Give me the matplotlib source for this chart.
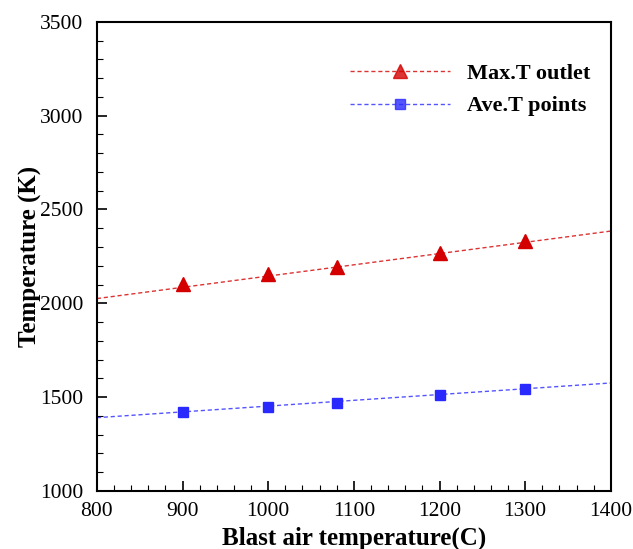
import numpy as np
import matplotlib.pyplot as plt
from matplotlib.ticker import MultipleLocator

# blast air temperature (C)
blast_temp = [900, 1000, 1080, 1200, 1300]
max_t_outlet = [2105, 2154, 2193, 2270, 2331]
ave_t_points = [1422, 1448, 1470, 1511, 1542]

# trend lines (ends of the plot range)
trend_x = [800, 1400]
trend_max = [2025, 2385]
trend_ave = [1390, 1575]

red = '#d40000'
blue = '#2a2aff'

fig = plt.figure(figsize=(6.33, 5.49), dpi=100)
ax = fig.add_axes([0.153, 0.106, 0.812, 0.854])

ax.plot(trend_x, trend_max, color=red, lw=1.0, ls=(0, (3, 2)), alpha=0.8)
ax.plot(trend_x, trend_ave, color=blue, lw=1.0, ls=(0, (3, 2)), alpha=0.8)
ax.plot(blast_temp, max_t_outlet, ls='none', marker='^', ms=9.5, color=red)
ax.plot(blast_temp, ave_t_points, ls='none', marker='s', ms=7.5, color=blue)

# legend handles: dashed line with marker in the middle
h1, = ax.plot([], [], color=red, lw=1.0, ls=(0, (3, 2)), alpha=0.8,
              marker='^', ms=9.5)
h2, = ax.plot([], [], color=blue, lw=1.0, ls=(0, (3, 2)), alpha=0.8,
              marker='s', ms=7.5)
leg = ax.legend([h1, h2], ['Max.T outlet', 'Ave.T points'], frameon=False,
                loc='upper right', bbox_to_anchor=(1.0, 0.955), handlelength=4.5,
                handletextpad=0.8, labelspacing=0.55, numpoints=1,
                prop={'family': 'Liberation Serif', 'weight': 'bold', 'size': 16})

ax.set_xlim(800, 1400)
ax.set_ylim(1000, 3500)
ax.xaxis.set_major_locator(MultipleLocator(100))
ax.xaxis.set_minor_locator(MultipleLocator(20))
ax.yaxis.set_major_locator(MultipleLocator(500))
ax.yaxis.set_minor_locator(MultipleLocator(100))
ax.tick_params(which='both', direction='in', top=False, right=False)
ax.tick_params(which='major', length=7, width=1.2, labelsize=15.5)
ax.tick_params(axis='x', which='major', pad=8)
ax.tick_params(axis='y', which='major', pad=10)
ax.tick_params(which='minor', length=4, width=0.8)
for lab in ax.get_xticklabels() + ax.get_yticklabels():
    lab.set_family('Liberation Serif')
for sp in ax.spines.values():
    sp.set_linewidth(1.5)

ax.set_xlabel('Blast air temperature(C)', family='Liberation Serif',
              weight='bold', size=18, labelpad=4)
ax.set_ylabel('Temperature (K)', family='Liberation Serif',
              weight='bold', size=18, labelpad=-2)

fig.savefig('out.png', dpi=100)
